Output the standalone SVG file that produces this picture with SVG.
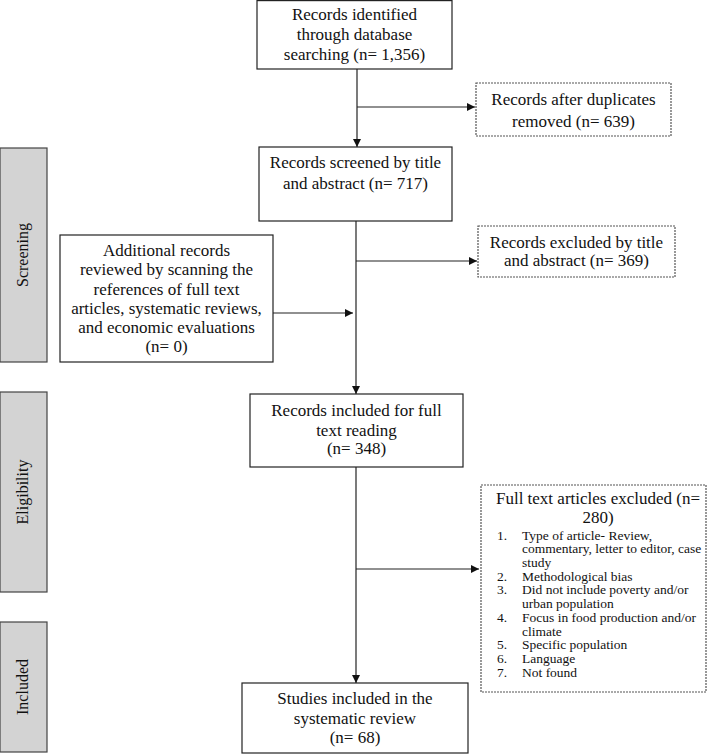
<svg xmlns="http://www.w3.org/2000/svg" width="709" height="754" viewBox="0 0 709 754">
<defs>
<style>
.box{fill:#fff;stroke:#222;stroke-width:1.2}
.dbox{fill:#fff;stroke:#555;stroke-width:1.2;stroke-dasharray:2,1}
.side{fill:#d3d3d3;stroke:#444;stroke-width:1.2}
.t{font-family:"Liberation Serif","Times New Roman",serif;font-size:17px;fill:#111;text-anchor:middle}
.lab{font-family:"Liberation Serif","Times New Roman",serif;font-size:16px;fill:#111;text-anchor:middle}
.title{font-family:"Liberation Serif","Times New Roman",serif;font-size:17px;fill:#111;text-anchor:middle}
.li{font-family:"Liberation Serif","Times New Roman",serif;font-size:13.5px;fill:#111}
.ln{fill:none;stroke:#222;stroke-width:1.2}
</style>
<marker id="ah" viewBox="0 0 10 10" refX="10" refY="5" markerWidth="8" markerHeight="8" markerUnits="userSpaceOnUse" orient="auto">
<path d="M0,0 L10,5 L0,10 z" fill="#111"/>
</marker>
</defs>

<g id="phase-screening">
<rect class="side" x="0" y="148" width="47" height="214"/>
<text class="lab" transform="translate(28,255) rotate(-90)">Screening</text>
</g>
<g id="phase-eligibility">
<rect class="side" x="0" y="392" width="47" height="200"/>
<text class="lab" transform="translate(28,492) rotate(-90)">Eligibility</text>
</g>
<g id="phase-included">
<rect class="side" x="0" y="622" width="47" height="130"/>
<text class="lab" transform="translate(28,687) rotate(-90)">Included</text>
</g>

<g id="connectors">
<line class="ln" x1="357" y1="69" x2="357" y2="147" marker-end="url(#ah)"/>
<line class="ln" x1="357" y1="107" x2="475" y2="107" marker-end="url(#ah)"/>
<line class="ln" x1="356" y1="221" x2="356" y2="394" marker-end="url(#ah)"/>
<line class="ln" x1="356" y1="261" x2="477" y2="261" marker-end="url(#ah)"/>
<line class="ln" x1="273" y1="313" x2="353" y2="313" marker-end="url(#ah)"/>
<line class="ln" x1="356" y1="467" x2="356" y2="683" marker-end="url(#ah)"/>
<line class="ln" x1="356" y1="569" x2="479" y2="569" marker-end="url(#ah)"/>
</g>

<g id="n-identified">
<rect class="box" x="257" y="0.6" width="195" height="68.4"/>
<text class="t" x="354.5" y="20">Records identified</text>
<text class="t" x="354.5" y="40">through database</text>
<text class="t" x="354.5" y="60">searching (n= 1,356)</text>
</g>

<g id="n-duplicates">
<rect class="dbox" x="476" y="83" width="195" height="53"/>
<text class="t" x="573.5" y="105">Records after duplicates</text>
<text class="t" x="573.5" y="127">removed (n= 639)</text>
</g>

<g id="n-screened">
<rect class="box" x="259" y="147" width="193" height="74"/>
<text class="t" x="355.5" y="168">Records screened by title</text>
<text class="t" x="355.5" y="189">and abstract (n= 717)</text>
</g>

<g id="n-excluded-ta">
<rect class="dbox" x="478" y="226" width="197" height="51"/>
<text class="t" x="576.5" y="248">Records excluded by title</text>
<text class="t" x="576.5" y="266">and abstract (n= 369)</text>
</g>

<g id="n-additional">
<rect class="box" x="60" y="235" width="213" height="127"/>
<text class="t" x="166.5" y="256">Additional records</text>
<text class="t" x="166.5" y="275.3">reviewed by scanning the</text>
<text class="t" x="166.5" y="294.6">references of full text</text>
<text class="t" x="166.5" y="314">articles, systematic reviews,</text>
<text class="t" x="166.5" y="333">and economic evaluations</text>
<text class="t" x="166.5" y="352">(n= 0)</text>
</g>

<g id="n-fulltext">
<rect class="box" x="250" y="394" width="213" height="73"/>
<text class="t" x="356.5" y="416">Records included for full</text>
<text class="t" x="356.5" y="436">text reading</text>
<text class="t" x="356.5" y="454">(n= 348)</text>
</g>

<g id="n-excluded-ft">
<rect class="dbox" x="481" y="485" width="225" height="207"/>
<text class="title" x="598" y="504">Full text articles excluded (n=</text>
<text class="title" x="598" y="523">280)</text>
<g class="li">
<text x="497" y="539.5">1.</text><text x="522" y="539.5">Type of article- Review,</text>
<text x="522" y="553.2">commentary, letter to editor, case</text>
<text x="522" y="566.9">study</text>
<text x="497" y="580.6">2.</text><text x="522" y="580.6">Methodological bias</text>
<text x="497" y="594.3">3.</text><text x="522" y="594.3">Did not include poverty and/or</text>
<text x="522" y="608">urban population</text>
<text x="497" y="621.8">4.</text><text x="522" y="621.8">Focus in food production and/or</text>
<text x="522" y="635.6">climate</text>
<text x="497" y="649.4">5.</text><text x="522" y="649.4">Specific population</text>
<text x="497" y="663.2">6.</text><text x="522" y="663.2">Language</text>
<text x="497" y="677">7.</text><text x="522" y="677">Not found</text>
</g>
</g>

<g id="n-included">
<rect class="box" x="242" y="683" width="226" height="70"/>
<text class="t" x="355" y="704">Studies included in the</text>
<text class="t" x="355" y="724">systematic review</text>
<text class="t" x="355" y="743">(n= 68)</text>
</g>
</svg>
